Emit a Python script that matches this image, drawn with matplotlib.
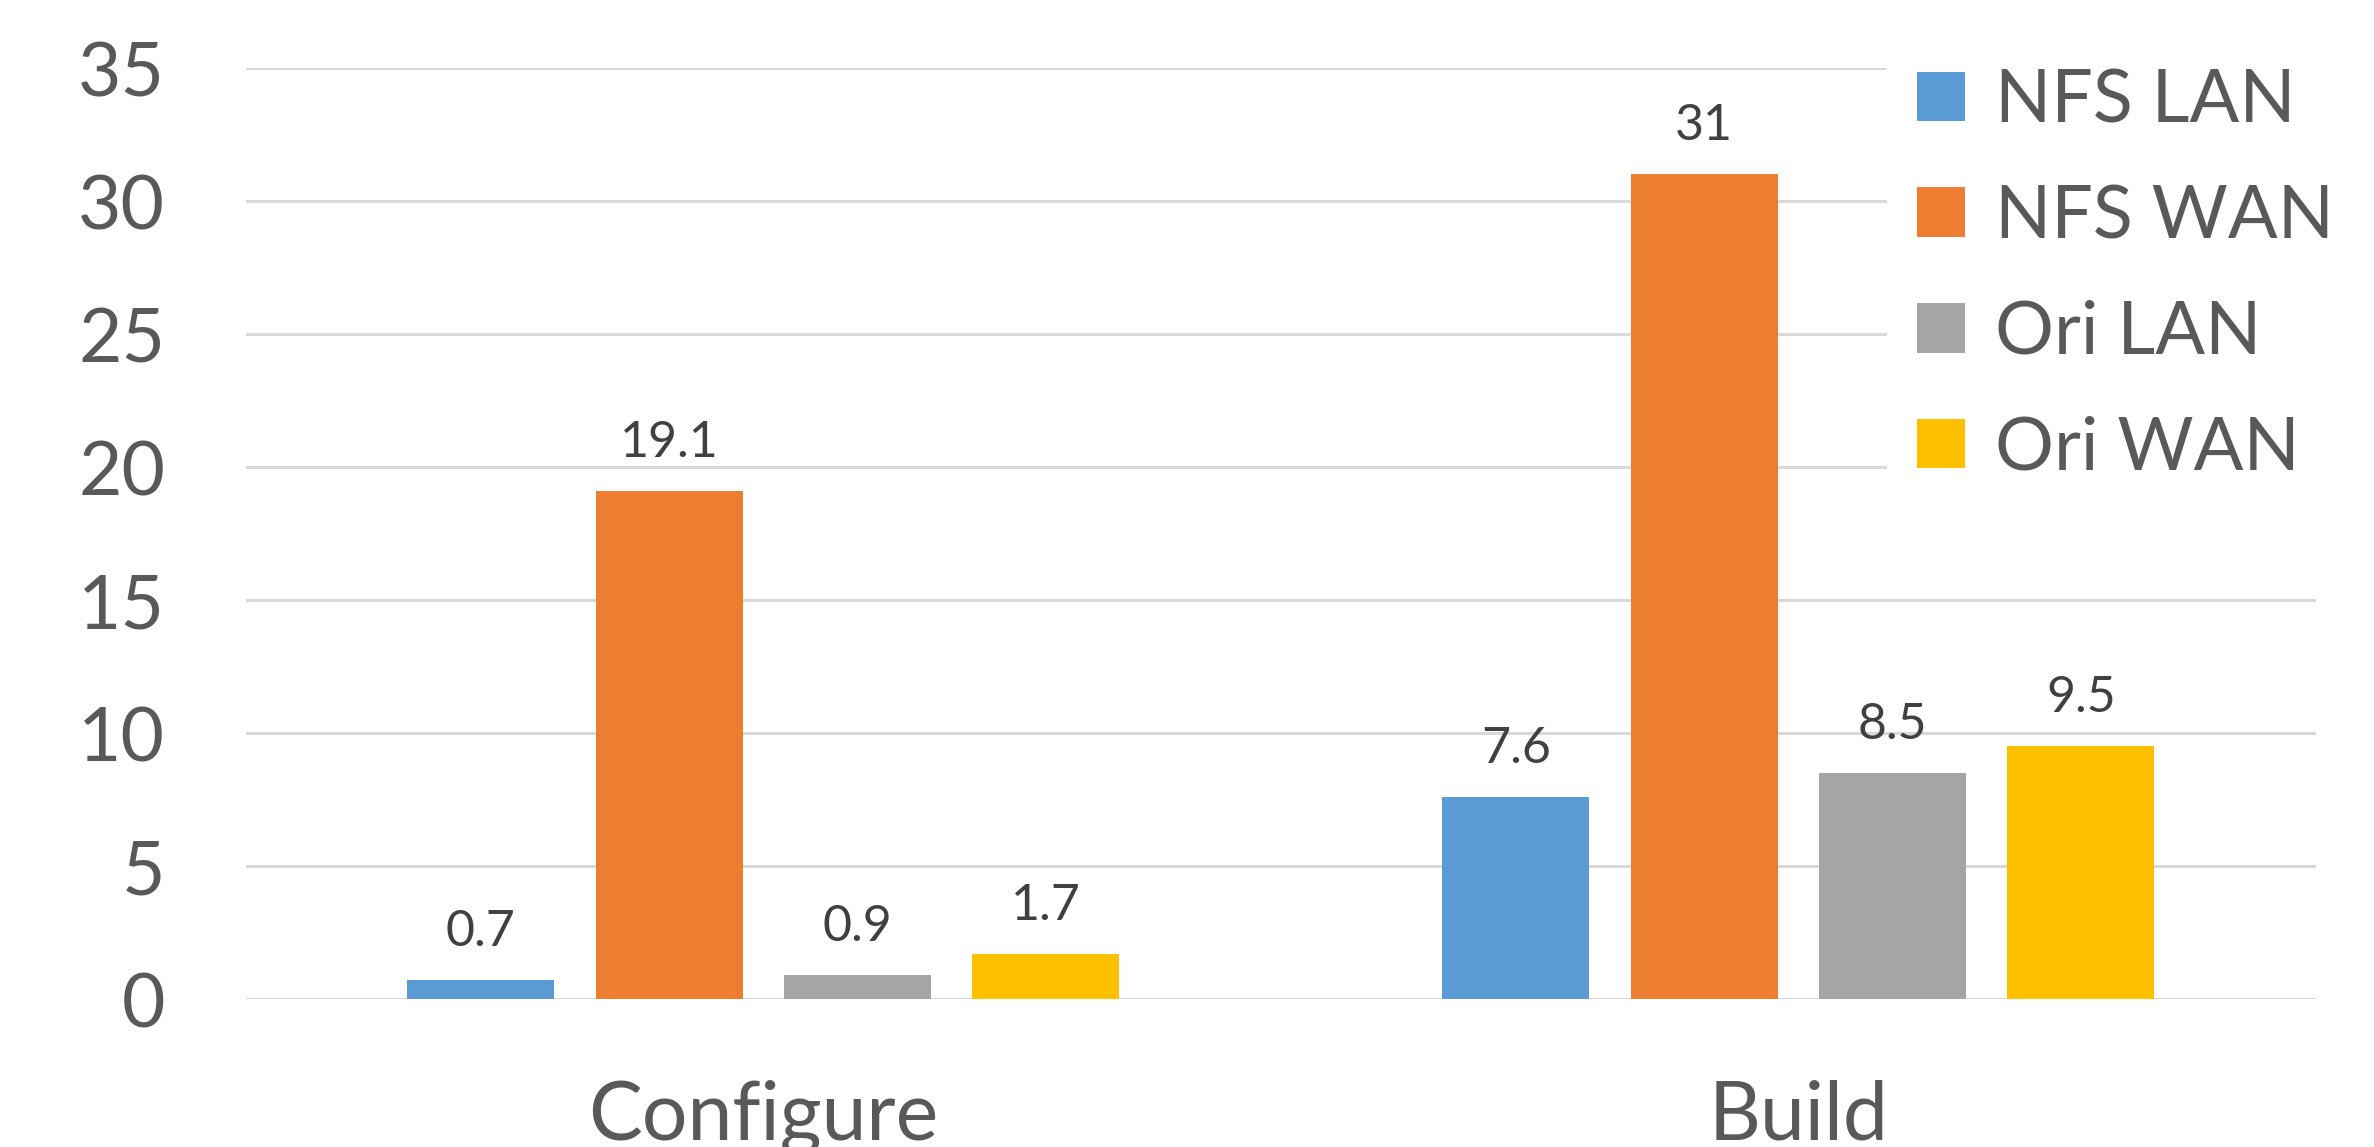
import numpy as np
import matplotlib.pyplot as plt

# data
categories = ["Configure", "Build"]
series_names = ["NFS LAN", "NFS WAN", "Ori LAN", "Ori WAN"]
nfs_lan = [0.7, 7.6]
nfs_wan = [19.1, 31]
ori_lan = [0.9, 8.5]
ori_wan = [1.7, 9.5]
y_ticks = [0, 5, 10, 15, 20, 25, 30, 35]

colors = ["#5B9BD5", "#ED7D31", "#A5A5A5", "#FFC000"]
text_color = "#595959"

plt.rcParams['font.family'] = ['Lato', 'DejaVu Sans']

fig = plt.figure(figsize=(23.74, 11.47), dpi=100)
ax = fig.add_axes([0.1035, 0.129, 0.872, 0.8117])

x = np.arange(len(categories))
width = 0.142
step = 0.182
all_series = [nfs_lan, nfs_wan, ori_lan, ori_wan]
for i, (name, vals) in enumerate(zip(series_names, all_series)):
    bars = ax.bar(x + (i - 1.5) * step, vals, width, color=colors[i], label=name, zorder=3)
    ax.bar_label(bars, labels=[f"{v:g}" for v in vals], padding=18,
                 fontsize=36, color="#404040")

ax.set_xlim(-0.5, 1.5)
ax.set_ylim(0, 35)
ax.set_yticks(y_ticks)
ax.set_xticks(x)
ax.set_xticklabels(categories)
ax.yaxis.grid(True, color="#D9D9D9", linewidth=2.2, zorder=0)
ax.set_axisbelow(True)
for s in ax.spines.values():
    s.set_visible(False)
ax.tick_params(axis='y', length=0, pad=58, labelsize=54, labelcolor=text_color)
ax.tick_params(axis='x', length=0, pad=58, labelsize=58, labelcolor=text_color)

leg = fig.legend(loc='upper left', bbox_to_anchor=(0.795, 0.966), fontsize=53,
                 frameon=True, facecolor='white', edgecolor='none', framealpha=1,
                 borderpad=0.4, handlelength=0.66, handleheight=0.66,
                 handletextpad=0.4, labelspacing=0.66, borderaxespad=0)
for t in leg.get_texts():
    t.set_color(text_color)
leg.set_zorder(10)

fig.savefig("out.png", dpi=100)
